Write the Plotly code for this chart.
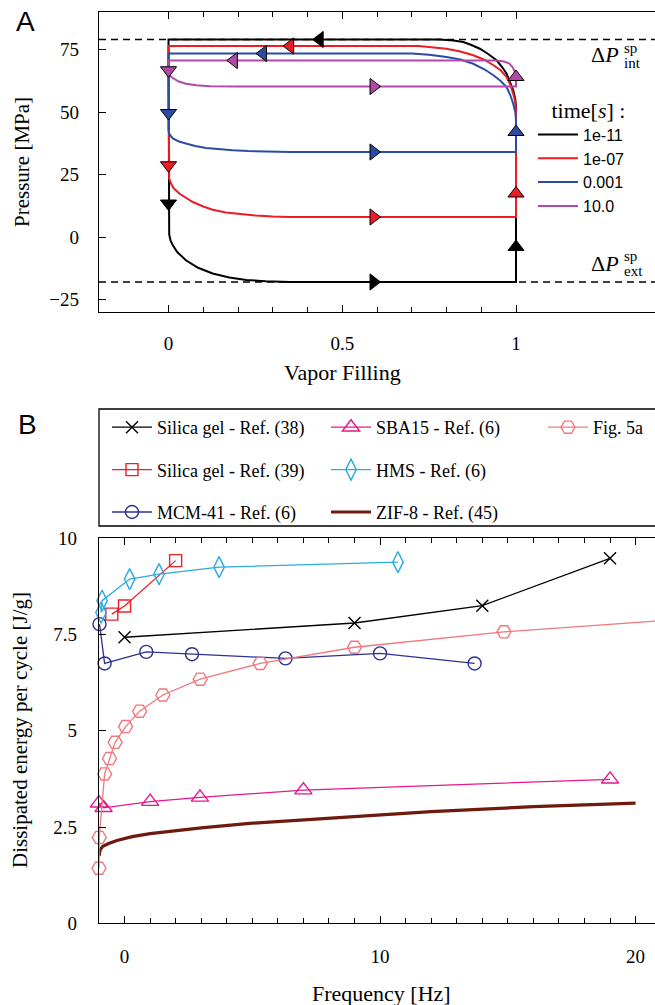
import plotly.graph_objects as go

# ---------------- Panel A data ----------------
P_INT = 79.0
P_EXT = -18.0

times = ["1e-11", "1e-07", "0.001", "10.0"]
colors_A = ["#000000", "#ec1c24", "#2c4ca4", "#b04aa6"]

loop_1e11_x = [1, 0.998, 0.992, 0.983, 0.973, 0.96, 0.944, 0.92, 0.896, 0.87, 0.848, 0.82, 0.78,
               0, 0, 0.002, 0.006, 0.012, 0.025, 0.05, 0.085, 0.127, 0.175, 0.224, 0.28, 0.35, 1, 1]
loop_1e11_p = [52, 55, 58.7, 62, 65.3, 68, 70.7, 73.2, 75.3, 76.9, 78, 78.6, 79,
               79, 6, 1, -1.5, -3.2, -6, -9.3, -12.3, -14.6, -16.2, -17.2, -17.7, -18, -18, 52]

loop_1e07_x = [1, 0.998, 0.992, 0.983, 0.973, 0.955, 0.935, 0.91, 0.877, 0.84, 0.8, 0.76, 0.72,
               0, 0, 0.002, 0.007, 0.015, 0.032, 0.05, 0.07, 0.1, 0.127, 0.165, 0.205, 0.25, 0.3, 0.35, 1, 1]
loop_1e07_p = [50.7, 54, 57.3, 61, 64, 66.8, 68.7, 70.8, 72.7, 74.2, 75.3, 76, 76.4,
               76.4, 25.5, 23.5, 21.4, 19.5, 17.3, 15.7, 14, 12.2, 10.9, 9.8, 9.1, 8.6, 8.2, 8.0, 8.0, 50.7]

loop_1e03_x = [1, 0.998, 0.992, 0.983, 0.973, 0.955, 0.935, 0.91, 0.877, 0.84, 0.8, 0.75, 0.7,
               0, 0, 0.003, 0.0125, 0.028, 0.05, 0.077, 0.108, 0.145, 0.185, 0.23, 0.28, 0.35, 1, 1]
loop_1e03_p = [46.7, 50, 53.3, 57, 60, 62.5, 64.7, 67, 69.3, 71, 72, 72.9, 73.4,
               73.4, 42.7, 41, 39.4, 38.3, 37.4, 36.4, 35.6, 35.1, 34.7, 34.4, 34.2, 34.0, 34.0, 46.7]

loop_10_x = [1, 0.997, 0.99, 0.98, 0.965, 0.944, 0, 0, 0.004, 0.012, 0.03, 0.05, 0.08, 0.12, 0.2, 1, 1]
loop_10_p = [64, 66, 68, 69.5, 70.2, 70.6, 70.6, 66, 64.6, 63.6, 62.2, 61.3, 60.7, 60.35, 60.2, 60.2, 64]

arrow_symbols = ["triangle-left", "triangle-down", "triangle-right", "triangle-up"]
arrows_1e11_x = [0.435, 0, 0.59, 1]
arrows_1e11_p = [79, 13.4, -18, -4]
arrows_1e07_x = [0.35, 0, 0.59, 1]
arrows_1e07_p = [76.4, 28.7, 8.0, 17.4]
arrows_1e03_x = [0.272, 0, 0.59, 1]
arrows_1e03_p = [73.4, 49.6, 34.0, 42]
arrows_10_x = [0.188, 0, 0.59, 1]
arrows_10_p = [70.6, 66.7, 60.2, 64]

loops_x = [loop_1e11_x, loop_1e07_x, loop_1e03_x, loop_10_x]
loops_p = [loop_1e11_p, loop_1e07_p, loop_1e03_p, loop_10_p]
arrows_x = [arrows_1e11_x, arrows_1e07_x, arrows_1e03_x, arrows_10_x]
arrows_p = [arrows_1e11_p, arrows_1e07_p, arrows_1e03_p, arrows_10_p]

# ---------------- Panel B data ----------------
silica38_f = [0, 9, 14, 19]
silica38_E = [7.43, 7.8, 8.25, 9.48]

silica39_f = [-0.5, 0.0, 2.0]
silica39_E = [8.03, 8.24, 9.42]

mcm41_f = [-0.98, -0.78, 0.85, 2.64, 6.3, 10.0, 13.7]
mcm41_E = [7.77, 6.75, 7.05, 6.99, 6.88, 7.01, 6.75]

sba15_f = [-1.0, -0.82, 1.0, 2.95, 7.0, 19.0]
sba15_E = [3.12, 3.0, 3.16, 3.27, 3.46, 3.74]

hms_f = [-0.92, -0.88, 0.2, 1.35, 3.7, 10.7]
hms_E = [8.07, 8.38, 8.94, 9.07, 9.25, 9.38]

zif8_f = [-1.0, -0.95, -0.85, -0.6, -0.3, 0.3, 1, 2, 3, 5, 8, 12, 16, 20]
zif8_E = [1.75, 1.92, 2.0, 2.08, 2.15, 2.25, 2.33, 2.41, 2.48, 2.6, 2.73, 2.9, 3.03, 3.12]

fig5a_f = [-1.0, -0.99, -0.78, -0.59, -0.37, 0.04, 0.59, 1.5, 2.96, 5.31, 9.0, 14.85]
fig5a_E = [1.43, 2.23, 3.88, 4.28, 4.70, 5.11, 5.51, 5.93, 6.34, 6.75, 7.17, 7.57]
fig5a_tail_f = [14.85, 21.0]
fig5a_tail_E = [7.57, 7.86]

# ---------------- Figure ----------------
W, H = 655, 1005
ML = 99
PW = W - ML
SERIF = "Liberation Serif, Times New Roman, serif"
SANS = "Liberation Sans, Arial, sans-serif"


def px_x(px):
    return (px - ML) / PW


def px_y(py):
    return 1 - py / H


fig = go.Figure()

# Panel A loops
for name, col, lx, lp in zip(times, colors_A, loops_x, loops_p):
    fig.add_trace(go.Scatter(x=lx, y=lp, mode="lines", name=name,
                             line=dict(color=col, width=2), legend="legend4",
                             xaxis="x", yaxis="y", hoverinfo="skip"))
for col, ax_, ap_ in zip(colors_A, arrows_x, arrows_p):
    fig.add_trace(go.Scatter(x=ax_, y=ap_, mode="markers", showlegend=False, cliponaxis=False,
                             marker=dict(symbol=arrow_symbols, size=14, color=col,
                                         line=dict(color="black", width=1)),
                             xaxis="x", yaxis="y", hoverinfo="skip"))


# Panel B series
def add_b(f, E, name, color, symbol, size, legend, group, lw=1.3):
    fig.add_trace(go.Scatter(
        x=f, y=E, mode="lines+markers", name=name, legend=legend, legendgroup=group,
        cliponaxis=False,
        line=dict(color=color, width=lw),
        marker=dict(symbol=symbol, size=size, color=color, line=dict(color=color, width=1.4)),
        xaxis="x2", yaxis="y2", hoverinfo="skip"))


add_b(silica38_f, silica38_E, "Silica gel - Ref. (38)", "#000000", "x-thin-open", 12, "legend", "g1")
add_b(silica39_f, silica39_E, "Silica gel - Ref. (39)", "#e8232a", "square-open", 12, "legend", "g2")
add_b(mcm41_f, mcm41_E, "MCM-41 - Ref. (6)", "#2e3192", "circle-open", 13, "legend", "g3")
add_b(sba15_f, sba15_E, "SBA15 - Ref. (6)", "#e6168c", "triangle-up-open", 15, "legend2", "g4")
add_b(hms_f, hms_E, "HMS - Ref. (6)", "#29abe2", "diamond-tall-open", 15, "legend2", "g5")
fig.add_trace(go.Scatter(x=zif8_f, y=zif8_E, mode="lines", name="ZIF-8 - Ref. (45)",
                         legend="legend2", legendgroup="g6",
                         line=dict(color="#6e1a0f", width=3.2),
                         xaxis="x2", yaxis="y2", hoverinfo="skip"))
fig.add_trace(go.Scatter(x=fig5a_tail_f, y=fig5a_tail_E, mode="lines", showlegend=False,
                         legend="legend3", legendgroup="g7",
                         line=dict(color="#f0787d", width=1.3),
                         xaxis="x2", yaxis="y2", hoverinfo="skip"))
add_b(fig5a_f, fig5a_E, "Fig. 5a", "#f0787d", "hexagon2-open", 14, "legend3", "g7")

tickfont = dict(family=SERIF, size=19, color="black")
axcommon = dict(showline=True, linecolor="black", linewidth=1.3, ticks="inside",
                tickcolor="black", tickwidth=1.2, showgrid=False, zeroline=False,
                tickfont=tickfont, automargin=False)

legB = dict(yanchor="top", xanchor="left", bgcolor="rgba(0,0,0,0)", borderwidth=0,
            tracegroupgap=16, itemwidth=40,
            font=dict(family=SERIF, size=18, color="black"))

fig.update_layout(
    width=W, height=H,
    margin=dict(l=ML, r=0, t=0, b=0),
    paper_bgcolor="white", plot_bgcolor="white",
    font=dict(family=SERIF, color="black"),
    xaxis=dict(domain=[0, 1], anchor="y", range=[-0.2, 1.4], mirror="ticks",
               tickmode="array", tickvals=[0, 0.5, 1], ticktext=["0", "0.5", "1"], ticklen=7,
               minor=dict(tickmode="array", tickvals=[0.1, 0.2, 0.3, 0.4, 0.6, 0.7, 0.8, 0.9],
                          ticks="inside", ticklen=5, tickcolor="black", tickwidth=1.2),
               ticklabelstandoff=14, **axcommon),
    yaxis=dict(domain=[px_y(312), px_y(12)], anchor="x", range=[-30, 90],
               tickmode="array", tickvals=[-25, 0, 25, 50, 75], ticklen=7,
               ticklabelstandoff=15, **axcommon),
    xaxis2=dict(domain=[0, 1], anchor="y2", range=[-1, 20.76], mirror="ticks",
                tick0=0, dtick=10, ticklen=7,
                minor=dict(tick0=0, dtick=1, ticks="inside", ticklen=5, tickcolor="black", tickwidth=1.2),
                ticklabelstandoff=16, **axcommon),
    yaxis2=dict(domain=[px_y(923.3), px_y(538.3)], anchor="x2", range=[0, 10],
                tick0=0, dtick=2.5, ticklen=7, ticklabelstandoff=17, **axcommon),
    legend4=dict(x=px_x(533), y=px_y(89), xanchor="left", yanchor="top",
                 bgcolor="rgba(0,0,0,0)", borderwidth=0, itemwidth=40,
                 font=dict(family=SANS, size=16, color="black"),
                 title=dict(text="\u00a0\u00a0\u00a0time[<i>s</i>]\u00a0:", font=dict(family=SERIF, size=22))),
    legend=dict(x=px_x(107), y=px_y(409), **legB),
    legend2=dict(x=px_x(326), y=px_y(409), **legB),
    legend3=dict(x=px_x(543), y=px_y(409), **legB),
)

# dashed spinodal lines
for pv in (P_INT, P_EXT):
    fig.add_shape(type="line", xref="x domain", yref="y", x0=0, x1=1, y0=pv, y1=pv,
                  line=dict(color="black", width=1.3, dash="7px,5px"))

# legend frame for panel B
fig.add_shape(type="rect", xref="paper", yref="paper", x0=0, x1=1.03,
              y0=px_y(526), y1=px_y(409), line=dict(color="black", width=1.3))

ann = []
# panel letters
ann.append(dict(text="A", x=px_x(25), y=px_y(22), font=dict(family=SANS, size=28)))
ann.append(dict(text="B", x=px_x(27), y=px_y(425), font=dict(family=SANS, size=28)))
# axis titles
ann.append(dict(text="Pressure [MPa]", x=px_x(22), y=px_y(162), textangle=-90,
                font=dict(family=SERIF, size=21)))
ann.append(dict(text="Vapor Filling", x=px_x(342), y=px_y(372), font=dict(family=SERIF, size=22)))
ann.append(dict(text="Dissipated energy per cycle [J/g]", x=px_x(20), y=px_y(730), textangle=-90,
                font=dict(family=SERIF, size=21)))
ann.append(dict(text="Frequency [Hz]", x=px_x(381), y=px_y(993), font=dict(family=SERIF, size=22)))
# spinodal labels
ann.append(dict(text="\u0394<i>P</i>", x=px_x(621), y=px_y(55), xanchor="right",
                font=dict(family=SERIF, size=22)))
ann.append(dict(text="sp", x=px_x(622), y=px_y(48), xanchor="left", font=dict(family=SERIF, size=15)))
ann.append(dict(text="int", x=px_x(622), y=px_y(63), xanchor="left", font=dict(family=SERIF, size=15)))
ann.append(dict(text="\u0394<i>P</i>", x=px_x(621), y=px_y(263), xanchor="right",
                font=dict(family=SERIF, size=22)))
ann.append(dict(text="sp", x=px_x(622), y=px_y(256), xanchor="left", font=dict(family=SERIF, size=15)))
ann.append(dict(text="ext", x=px_x(622), y=px_y(271), xanchor="left", font=dict(family=SERIF, size=15)))

for a in ann:
    a.setdefault("xanchor", "center")
    a.update(xref="paper", yref="paper", yanchor="middle", showarrow=False)
    a["font"]["color"] = "black"
fig.update_layout(annotations=ann)

fig.write_html("out.html")
